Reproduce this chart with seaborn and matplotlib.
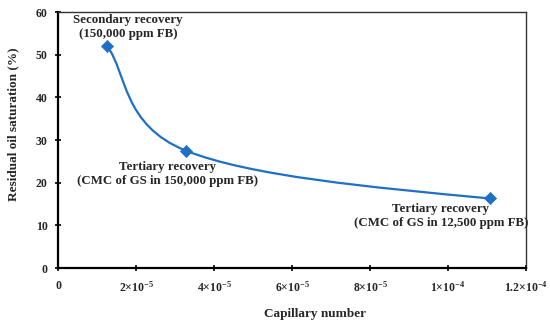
import numpy as np
import pandas as pd
import matplotlib
matplotlib.use("Agg")
import matplotlib.pyplot as plt
from matplotlib.path import Path
from matplotlib.patches import PathPatch
import seaborn as sns

# ==========================================================
# DATA
# ==========================================================
capillary_number = [1.26e-5, 3.28e-5, 1.107e-4]
residual_oil = [52.0, 27.5, 16.3]
stage_labels = [
    "Secondary recovery\n(150,000 ppm FB)",
    "Tertiary recovery\n(CMC of GS in 150,000 ppm FB)",
    "Tertiary recovery\n(CMC of GS in 12,500 ppm FB)",
]
label_x = [1.80e-5, 2.82e-5, 9.82e-5]
label_y = [56.5, 22.0, 12.1]

x_ticks = [0, 2e-5, 4e-5, 6e-5, 8e-5, 1e-4, 1.2e-4]
x_tick_labels = ["0", "2×10$^{-5}$", "4×10$^{-5}$", "6×10$^{-5}$",
                 "8×10$^{-5}$", "1×10$^{-4}$", "1.2×10$^{-4}$"]
y_ticks = [0, 10, 20, 30, 40, 50, 60]

BLUE = "#1f6fc4"

# ==========================================================
# STYLE
# ==========================================================
sns.set_theme(style="white")
plt.rcParams["font.family"] = ["Liberation Serif", "DejaVu Serif"]
plt.rcParams["font.weight"] = "bold"
plt.rcParams["mathtext.fontset"] = "custom"
plt.rcParams["mathtext.rm"] = "Liberation Serif:bold"
plt.rcParams["mathtext.default"] = "rm"

df = pd.DataFrame({"ca": capillary_number, "sor": residual_oil})

fig = plt.figure(figsize=(5.5, 3.22), dpi=100)
ax = fig.add_axes([0.1055, 0.1677, 0.8509, 0.795])

# smoothed line (bezier through the points, excel-like)
pts = np.column_stack([capillary_number, residual_oil])
n = len(pts)
tang = np.zeros_like(pts)
for i in range(1, n - 1):
    tang[i] = (pts[i + 1] - pts[i - 1]) / 2
verts = [tuple(pts[0])]
codes = [Path.MOVETO]
for i in range(n - 1):
    p0, p1 = pts[i], pts[i + 1]
    c1 = p0 + tang[i] / 3 if i > 0 else p0 + (p1 - p0) / 4
    c2 = p1 - tang[i + 1] / 3 if i + 1 < n - 1 else p1 + (c1 - p1) / 2
    verts += [tuple(c1), tuple(c2), tuple(p1)]
    codes += [Path.CURVE4] * 3
ax.add_patch(PathPatch(Path(verts, codes), facecolor="none",
                       edgecolor=BLUE, lw=1.6, zorder=2))

sns.scatterplot(data=df, x="ca", y="sor", marker="D", s=38,
                color=BLUE, edgecolor=BLUE, zorder=3, ax=ax)

for txt, tx, ty in zip(stage_labels, label_x, label_y):
    ax.text(tx, ty, txt, ha="center", va="center", multialignment="center",
            fontsize=9.3, fontweight="bold", linespacing=1.2)

ax.set_xlim(0, 1.2e-4)
ax.set_ylim(0, 60)
ax.set_xticks(x_ticks)
ax.set_xticklabels(x_tick_labels)
ax.set_yticks(y_ticks)

ax.tick_params(axis="both", direction="inout", length=5, width=1.2,
               color="black", labelsize=8.5, bottom=True, left=True)
ax.tick_params(axis="x", pad=6)
ax.tick_params(axis="y", pad=5)
for lbl in ax.get_xticklabels() + ax.get_yticklabels():
    lbl.set_fontweight("bold")

for side in ["left", "bottom"]:
    ax.spines[side].set_color("black")
    ax.spines[side].set_linewidth(1.6)
for side in ["top", "right"]:
    ax.spines[side].set_color("#333333")
    ax.spines[side].set_linewidth(1.0)

ax.set_xlabel("Capillary number", fontsize=9.5, fontweight="bold")
ax.set_ylabel("Residual oil saturation (%)", fontsize=9.5, fontweight="bold")
ax.xaxis.set_label_coords(0.55, -0.155)
ax.yaxis.set_label_coords(-0.083, 0.56)

fig.savefig("out.png", dpi=100)
